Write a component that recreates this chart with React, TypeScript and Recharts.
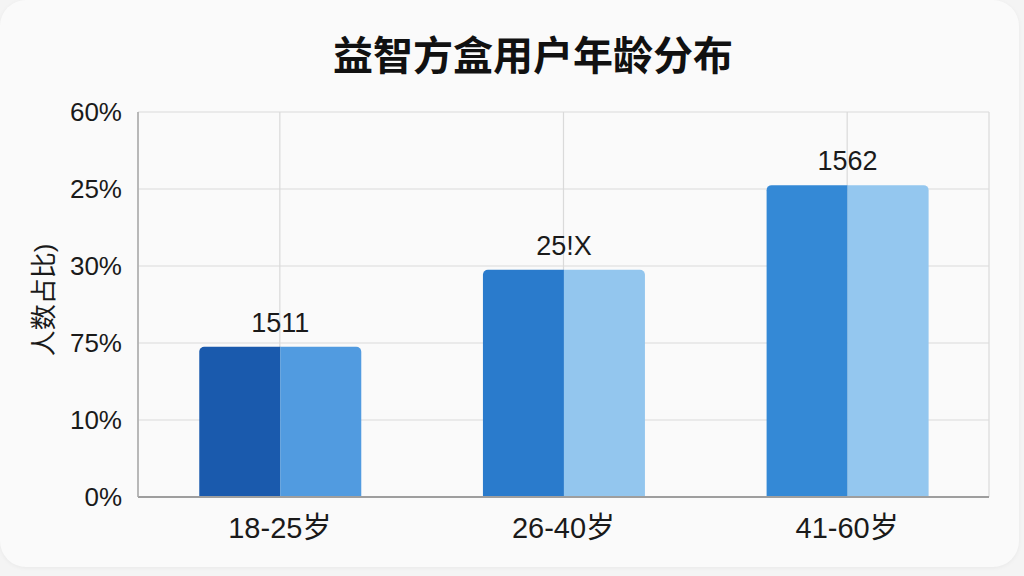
import React from 'react';
import { BarChart, Bar, XAxis, YAxis, CartesianGrid, Cell, LabelList } from 'recharts';

const categories = ['18-25岁', '26-40岁', '41-60岁'];
const seriesA = [1.95, 2.95, 4.05];
const seriesB = [1.95, 2.95, 4.05];
const valueLabels = ['1511', '25!X', '1562'];
const yTicks = [0, 1, 2, 3, 4, 5];
const yTickLabels = ['0%', '10%', '75%', '30%', '25%', '60%'];
const colorsA = ['#1a5aad', '#2a7bcc', '#3489d6'];
const colorsB = ['#519be0', '#93c6ee', '#94c7ef'];

const title = '益智方盒用户年龄分布';
const yLabel = '人数占比)';

const data = categories.map((c, i) => ({ name: c, a: seriesA[i], b: seriesB[i], label: valueLabels[i] }));

const FONT = "'Liberation Sans', Arial, 'Noto Sans CJK SC', sans-serif";

const GroupLabel = (props: any) => {
  const { x, y, width, index } = props;
  return (
    <text
      x={Number(x) + Number(width)}
      y={Number(y) - 15}
      textAnchor="middle"
      fontSize={27}
      fill="#1a1a1a"
      fontFamily={FONT}
    >
      {valueLabels[index]}
    </text>
  );
};

const YLabel = () => (
  <text
    x={44}
    y={300}
    transform="rotate(-90 44 300)"
    textAnchor="middle"
    dominantBaseline="central"
    fontSize={26}
    fill="#1a1a1a"
    fontFamily={FONT}
  >
    {yLabel}
  </text>
);

export default function App() {
  return (
    <div style={{ position: 'absolute', left: 0, top: 0, width: 1024, height: 576, background: '#f4f4f4', overflow: 'hidden' }}>
      <div style={{ position: 'absolute', left: 0, top: 0, width: 1019, height: 567, background: '#fafafa', borderRadius: 26, boxShadow: '0 1px 4px rgba(0,0,0,0.05)' }} />
      <div
        style={{
          position: 'absolute',
          left: 0,
          top: 32,
          width: 1066,
          textAlign: 'center',
          fontFamily: FONT,
          fontWeight: 700,
          fontSize: 40,
          lineHeight: '48px',
          color: '#111',
        }}
      >
        {title}
      </div>
      <div style={{ position: 'absolute', left: 0, top: 0 }}>
        <BarChart
          width={1024}
          height={576}
          data={data}
          margin={{ top: 112, right: 35, bottom: 0, left: 0 }}
          barCategoryGap="21.6%"
          barGap={0}
        >
          <CartesianGrid stroke="#dadada" strokeWidth={1.2} />
          <XAxis
            dataKey="name"
            height={79}
            tickLine={false}
            tickSize={6}
            tickMargin={14}
            axisLine={{ stroke: '#9e9e9e', strokeWidth: 2 }}
            tick={{ fontSize: 29, fill: '#1a1a1a', fontFamily: FONT }}
          />
          <YAxis
            width={138}
            domain={[0, 5]}
            ticks={yTicks}
            interval={0}
            tickFormatter={(v: number) => yTickLabels[v]}
            tickLine={false}
            tickSize={6}
            tickMargin={10}
            axisLine={{ stroke: '#a8a8a8', strokeWidth: 1.5 }}
            tick={{ fontSize: 26, fill: '#1a1a1a', fontFamily: FONT }}
            label={<YLabel />}
          />
          <Bar dataKey="a" isAnimationActive={false} radius={[5, 0, 0, 0]}>
            {data.map((_, i) => (
              <Cell key={i} fill={colorsA[i]} />
            ))}
            <LabelList dataKey="label" content={<GroupLabel />} />
          </Bar>
          <Bar dataKey="b" isAnimationActive={false} radius={[0, 5, 0, 0]}>
            {data.map((_, i) => (
              <Cell key={i} fill={colorsB[i]} />
            ))}
          </Bar>
        </BarChart>
      </div>
    </div>
  );
}
